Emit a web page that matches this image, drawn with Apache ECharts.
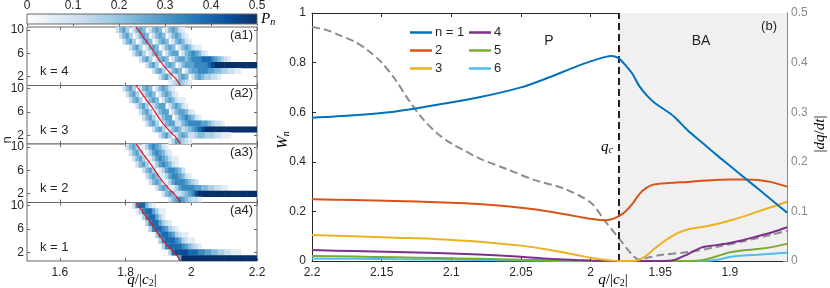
<!DOCTYPE html>
<html><head><meta charset="utf-8">
<script src="https://cdn.jsdelivr.net/npm/echarts@6/dist/echarts.min.js"></script>
<style>html,body{margin:0;padding:0;background:#fff}#c{width:830px;height:288px}</style>
</head><body><div id="c"></div>
<script>
// ================= DATA =================
const colorbarTicks = [0, 0.1, 0.2, 0.3, 0.4, 0.5];
const heatXTicks = [1.6, 1.8, 2.0, 2.2];
const heatYTicks = [2, 6, 10];
const panelLabels = ['(a1)', '(a2)', '(a3)', '(a4)'];
const panelK = ['k = 4', 'k = 3', 'k = 2', 'k = 1'];
// heat rows: [n, q of first 0.01-wide column, intensity digits 0..9 (9 = P_n 0.5)]
const heatK4 = [
  [10, 1.77, "2453024540245402454210"],
  [9, 1.78, "24530245402454024542100"],
  [8, 1.79, "245302454024540245421"],
  [7, 1.81, "2453024540245402454211"],
  [6, 1.82, "24530245402455024565421"],
  [5, 1.84, "2453024540245545666777654321"],
  [4, 1.86, "24530245402455566667899999999999999"],
  [3, 1.88, "245302454024556665544332211"],
  [2, 1.90, "2453024540245433221"],
  [1, 1.93, "1234321"]
];
const heatK3 = [
  [10, 1.79, "2453024540245421"],
  [9, 1.80, "2453024540245421"],
  [8, 1.81, "24530245402454211"],
  [7, 1.83, "2453024550245421"],
  [6, 1.84, "24530245502455421"],
  [5, 1.85, "245302455024565421"],
  [4, 1.86, "245302455224566665543221"],
  [3, 1.88, "245302454234567899999999999999999"],
  [2, 1.90, "2453024542234433322111"],
  [1, 1.93, "1354321"]
];
const heatK2 = [
  [10, 1.80, "2453013565421"],
  [9, 1.81, "2453013565421"],
  [8, 1.82, "24530135654211"],
  [7, 1.83, "2453013565421"],
  [6, 1.85, "2453013566542"],
  [5, 1.86, "24541135665421"],
  [4, 1.87, "245411356665432"],
  [3, 1.89, "2454113566665544332211"],
  [2, 1.91, "245422345689999999999999999999"],
  [1, 1.93, "2456543221"]
];
const heatK1 = [
  [10, 1.82, "2677421"],
  [9, 1.83, "136775311"],
  [8, 1.85, "3677531"],
  [7, 1.86, "36775321"],
  [6, 1.87, "367765321"],
  [5, 1.89, "3677653211"],
  [4, 1.90, "36777653211"],
  [3, 1.91, "367777654321"],
  [2, 1.93, "3788887776655443322111"],
  [1, 1.96, "5999999999999999999999999"]
];
// red curve in heat panels
const redQ = [1.832, 1.855, 1.881, 1.906, 1.930, 1.945, 1.955, 1.967];
const redN = [10.5, 8.7, 6.7, 4.6, 2.95, 2.1, 1.5, 0.5];

// right panel
const bXTicks = [2.2, 2.15, 2.1, 2.05, 2, 1.95, 1.9];
const qC = 1.98;
const qGrid = [2.2, 2.17, 2.14, 2.11, 2.08, 2.05, 2.03, 2.01, 2.0, 1.99, 1.985, 1.98, 1.975, 1.97, 1.965, 1.96, 1.955, 1.95, 1.94, 1.93, 1.92, 1.91, 1.90, 1.89, 1.88, 1.87, 1.859];
const W1 = [0.578, 0.588, 0.603, 0.630, 0.660, 0.700, 0.740, 0.785, 0.805, 0.822, 0.827, 0.818, 0.790, 0.755, 0.705, 0.670, 0.642, 0.622, 0.582, 0.525, 0.478, 0.430, 0.384, 0.338, 0.292, 0.246, 0.195];
const W2 = [0.249, 0.246, 0.242, 0.237, 0.230, 0.215, 0.200, 0.180, 0.170, 0.164, 0.168, 0.180, 0.200, 0.230, 0.270, 0.295, 0.308, 0.312, 0.316, 0.319, 0.324, 0.327, 0.329, 0.329, 0.327, 0.318, 0.300];
const W3 = [0.105, 0.100, 0.094, 0.088, 0.078, 0.062, 0.045, 0.024, 0.013, 0.005, 0.002, 0.0, 0.0, 0.0, 0.005, 0.022, 0.045, 0.068, 0.105, 0.128, 0.137, 0.148, 0.163, 0.180, 0.199, 0.218, 0.239];
const W4 = [0.044, 0.040, 0.036, 0.032, 0.026, 0.017, 0.009, 0.004, 0.002, 0.001, 0, 0, 0, 0, 0, 0, 0, 0, 0.004, 0.028, 0.055, 0.064, 0.073, 0.085, 0.100, 0.115, 0.136];
const W5 = [0.020, 0.018, 0.015, 0.012, 0.009, 0.005, 0.003, 0.001, 0, 0, 0, 0, 0, 0, 0, 0, 0, 0, 0, 0, 0.003, 0.018, 0.035, 0.043, 0.048, 0.056, 0.069];
const W6 = [0.010, 0.009, 0.007, 0.006, 0.004, 0.002, 0.001, 0, 0, 0, 0, 0, 0, 0, 0, 0, 0, 0, 0, 0, 0, 0.004, 0.016, 0.022, 0.025, 0.029, 0.033];
const qRate = [2.2, 2.19, 2.18, 2.17, 2.16, 2.15, 2.14, 2.13, 2.12, 2.11, 2.10, 2.09, 2.08, 2.06, 2.04, 2.02, 2.00, 1.99, 1.98, 1.97, 1.965, 1.96, 1.95, 1.93, 1.91, 1.89, 1.87, 1.859];
const rate = [0.472, 0.466, 0.455, 0.443, 0.425, 0.400, 0.365, 0.322, 0.285, 0.257, 0.237, 0.222, 0.207, 0.185, 0.163, 0.147, 0.118, 0.082, 0.047, 0.012, 0.003, 0.006, 0.012, 0.018, 0.028, 0.040, 0.053, 0.061];
const seriesNames = ['n = 1', '2', '3', '4', '5', '6'];

// ================= CHART =================
const FONT = '"Liberation Sans", Arial, sans-serif';
const SERIF = '"Liberation Serif", "DejaVu Serif", serif';
const DARK = '#262626';
const blues = ['#ffffff', '#deebf7', '#c6dbef', '#9ecae1', '#6baed6', '#4292c6', '#2171b5', '#08519c', '#08306b'];
const chart = echarts.init(document.getElementById('c'));

function heatData(rows) {
  const out = [];
  rows.forEach(([n, q0, s]) => {
    for (let j = 0; j < s.length; j++) {
      const d = +s[j];
      if (d > 0) out.push([Math.round((q0 + j * 0.01) * 1000) / 1000, n, d / 18]);
    }
  });
  return out;
}
const heats = [heatK4, heatK3, heatK2, heatK1];
const panelTops = [27, 85.5, 144, 202.5];
const panelH = 58.5;
const grids = [], xAxes = [], yAxes = [], series = [];

panelTops.forEach((t, i) => {
  grids.push({ left: 27, top: t, width: 230, height: panelH, show: true, borderColor: '#666', borderWidth: 1, backgroundColor: '#fff' });
  const tick = { inside: true, length: 3, lineStyle: { color: '#666' } };
  xAxes.push({ type: 'value', gridIndex: i, min: 1.5, max: 2.2, axisLine: { show: false }, splitLine: { show: false },
    axisTick: Object.assign({ customValues: heatXTicks }, tick),
    axisLabel: { show: i === 3, customValues: heatXTicks, color: DARK, fontSize: 12, fontFamily: FONT, margin: 6 } });
  xAxes.push({ type: 'value', gridIndex: i, position: 'top', min: 1.5, max: 2.2, axisLine: { show: false }, splitLine: { show: false },
    axisTick: Object.assign({ customValues: heatXTicks }, tick), axisLabel: { show: false } });
  yAxes.push({ type: 'value', gridIndex: i, min: 0.5, max: 10.5, axisLine: { show: false }, splitLine: { show: false },
    axisTick: Object.assign({ customValues: heatYTicks }, tick),
    axisLabel: { customValues: heatYTicks, color: DARK, fontSize: 12, fontFamily: FONT, margin: 3 } });
  yAxes.push({ type: 'value', gridIndex: i, position: 'right', min: 0.5, max: 10.5, axisLine: { show: false }, splitLine: { show: false },
    axisTick: Object.assign({ customValues: heatYTicks }, tick), axisLabel: { show: false } });
  series.push({ type: 'custom', xAxisIndex: 2 * i, yAxisIndex: 2 * i, clip: true, data: heatData(heats[i]),
    encode: { x: 0, y: 1 }, silent: true,
    renderItem: (params, api) => {
      const q0 = api.value(0), n = api.value(1);
      const p1 = api.coord([q0, n + 0.5]);
      const p2 = api.coord([q0 + 0.01, n - 0.5]);
      return { type: 'rect', shape: { x: p1[0], y: p1[1], width: p2[0] - p1[0] + 0.6, height: p2[1] - p1[1] + 0.3 },
        style: { fill: api.visual('color') } };
    } });
});
panelTops.forEach((t, i) => {
  series.push({ type: 'line', xAxisIndex: 2 * i, yAxisIndex: 2 * i, data: redQ.map((q, j) => [q, redN[j]]),
    symbol: 'none', smooth: 0.3, lineStyle: { color: '#e3121b', width: 1.2 }, silent: true, z: 5 });
});

// colorbar grid (index 4)
grids.push({ left: 27, top: 13, width: 230, height: 11, show: false });
xAxes.push({ type: 'value', gridIndex: 4, position: 'top', min: 0, max: 0.5, interval: 0.1,
  axisLine: { show: false }, splitLine: { show: false },
  axisTick: { inside: true, length: 2, lineStyle: { color: '#666' } },
  axisLabel: { color: DARK, fontSize: 12, fontFamily: FONT, margin: 2 } });
yAxes.push({ type: 'value', gridIndex: 4, min: 0, max: 1, show: false });
series.push({ type: 'custom', xAxisIndex: 8, yAxisIndex: 8, data: [[0, 0]], silent: true, z: 1,
  renderItem: (params) => {
    const c = params.coordSys;
    return { type: 'rect', shape: { x: c.x, y: c.y, width: c.width, height: c.height },
      style: { fill: new echarts.graphic.LinearGradient(0, 0, 1, 0, blues.map((col, k) => ({ offset: k / (blues.length - 1), color: col }))),
        stroke: '#666', lineWidth: 1 } };
  } });

// right panel grid (index 5)
grids.push({ left: 312, top: 13, width: 475, height: 248, show: false });
const bTick = { inside: true, length: 4, lineStyle: { color: DARK } };
xAxes.push({ type: 'value', gridIndex: 5, inverse: true, min: 1.859, max: 2.2,
  axisLine: { show: true, onZero: false, lineStyle: { color: DARK, width: 1 } }, splitLine: { show: false },
  axisTick: Object.assign({ customValues: bXTicks }, bTick),
  axisLabel: { customValues: bXTicks, color: DARK, fontSize: 12, fontFamily: FONT, margin: 6 } });
xAxes.push({ type: 'value', gridIndex: 5, inverse: true, position: 'top', min: 1.859, max: 2.2,
  axisLine: { show: true, onZero: false, lineStyle: { color: DARK, width: 1 } }, splitLine: { show: false },
  axisTick: Object.assign({ customValues: bXTicks }, bTick), axisLabel: { show: false } });
yAxes.push({ type: 'value', gridIndex: 5, min: 0, max: 1, interval: 0.2,
  axisLine: { show: true, onZero: false, lineStyle: { color: DARK, width: 1 } }, splitLine: { show: false },
  axisTick: bTick, axisLabel: { color: DARK, fontSize: 12, fontFamily: FONT, margin: 6 } });
yAxes.push({ type: 'value', gridIndex: 5, position: 'right', min: 0, max: 0.5, interval: 0.1,
  axisLine: { show: true, onZero: false, lineStyle: { color: '#8a8a8a', width: 1 } }, splitLine: { show: false },
  axisTick: { inside: true, length: 4, lineStyle: { color: '#8a8a8a' } },
  axisLabel: { color: '#8a8a8a', fontSize: 12, fontFamily: FONT, margin: 4 } });

// shaded BA region + q_c line
series.push({ type: 'line', xAxisIndex: 9, yAxisIndex: 9, data: [], silent: true, z: 1, symbol: 'none',
  markArea: { silent: true, itemStyle: { color: '#f0f0f0' }, data: [[{ xAxis: qC }, { xAxis: 1.859 }]] },
  markLine: { silent: true, symbol: ['none', 'none'], label: { show: false },
    lineStyle: { color: '#222', type: [7, 4], width: 2 }, data: [{ xAxis: qC }] } });

const lineColors = ['#0072BD', '#D95319', '#EDB120', '#7E2F8E', '#77AC30', '#4DBEEE'];
[W1, W2, W3, W4, W5, W6].forEach((arr, k) => {
  series.push({ name: seriesNames[k], type: 'line', xAxisIndex: 9, yAxisIndex: 9, z: 3 + (6 - k),
    data: qGrid.map((q, j) => [q, arr[j]]), symbol: 'none', smooth: 0.3,
    lineStyle: { color: lineColors[k], width: 2 }, itemStyle: { color: lineColors[k] }, silent: true });
});
series.push({ type: 'line', xAxisIndex: 9, yAxisIndex: 10, z: 3, data: qRate.map((q, j) => [q, rate[j]]),
  symbol: 'none', smooth: 0.3, lineStyle: { color: '#8c8c8c', width: 2, type: [8, 4] }, silent: true });

const legendBase = { orient: 'vertical', icon: 'rect', itemWidth: 22, itemHeight: 2.5, itemGap: 5,
  textStyle: { fontSize: 13, fontFamily: FONT, color: DARK, padding: [0, 0, 0, -2] }, selectedMode: false };

const mathRich = {
  i: { fontFamily: SERIF, fontStyle: 'italic', fontSize: 15, color: DARK },
  n: { fontFamily: SERIF, fontSize: 15, color: DARK },
  s: { fontFamily: SERIF, fontSize: 10, color: DARK, padding: [6, 0, 0, 0] },
  si: { fontFamily: SERIF, fontStyle: 'italic', fontSize: 10, color: DARK, padding: [6, 0, 0, 0] }
};
const grayRich = {
  i: { fontFamily: SERIF, fontStyle: 'italic', fontSize: 15, color: '#8a8a8a' },
  n: { fontFamily: SERIF, fontSize: 15, color: '#8a8a8a' }
};
function txt(x, y, text, extra) {
  return { type: 'text', x: x, y: y, silent: true, z: 100,
    style: Object.assign({ text: text, fontSize: 13, fontFamily: FONT, fill: DARK, align: 'center', verticalAlign: 'middle' }, extra || {}) };
}
const graphics = [];
panelTops.forEach((t, i) => {
  graphics.push(txt(253, t + 8, panelLabels[i], { align: 'right', fontSize: 13 }));
  graphics.push(txt(40, t + panelH - 14, panelK[i], { align: 'left', fontSize: 13 }));
});
graphics.push({ type: 'text', x: 7, y: 140, rotation: Math.PI / 2, silent: true, z: 100,
  style: { text: 'n', fontSize: 13, fontFamily: FONT, fill: DARK, align: 'center', verticalAlign: 'middle' } });
graphics.push({ type: 'text', x: 261, y: 19, silent: true, z: 100,
  style: { text: '{i|P}{si|n}', rich: mathRich, align: 'left', verticalAlign: 'middle' } });
graphics.push({ type: 'text', x: 142, y: 280, silent: true, z: 100,
  style: { text: '{i|q}{n|/|}{i|c}{s|2}{n||}', rich: mathRich, align: 'center', verticalAlign: 'middle' } });
graphics.push({ type: 'text', x: 613, y: 280, silent: true, z: 100,
  style: { text: '{i|q}{n|/|}{i|c}{s|2}{n||}', rich: mathRich, align: 'center', verticalAlign: 'middle' } });
graphics.push({ type: 'text', x: 283, y: 140, rotation: Math.PI / 2, silent: true, z: 100,
  style: { text: '{i|W}{si|n}', rich: mathRich, align: 'center', verticalAlign: 'middle' } });
graphics.push({ type: 'text', x: 820, y: 134, rotation: Math.PI / 2, silent: true, z: 100,
  style: { text: '{n||}{i|dq}{n|/}{i|dt}{n||}', rich: grayRich, align: 'center', verticalAlign: 'middle' } });
graphics.push(txt(549, 41, 'P', { fontSize: 14 }));
graphics.push(txt(701, 41, 'BA', { fontSize: 14 }));
graphics.push(txt(777, 26, '(b)', { fontSize: 13, align: 'right' }));
graphics.push({ type: 'text', x: 613, y: 147, silent: true, z: 100,
  style: { text: '{i|q}{si|c}', rich: mathRich, align: 'right', verticalAlign: 'middle' } });

chart.setOption({
  animation: false,
  backgroundColor: '#fff',
  grid: grids,
  xAxis: xAxes,
  yAxis: yAxes,
  visualMap: { show: false, type: 'continuous', min: 0, max: 0.5, dimension: 2, seriesIndex: [0, 1, 2, 3],
    inRange: { color: blues } },
  legend: [
    Object.assign({ left: 405, top: 21, data: ['n = 1', '2', '3'] }, legendBase),
    Object.assign({ left: 464, top: 21, data: ['4', '5', '6'] }, legendBase)
  ],
  series: series,
  graphic: graphics
});
</script></body></html>
